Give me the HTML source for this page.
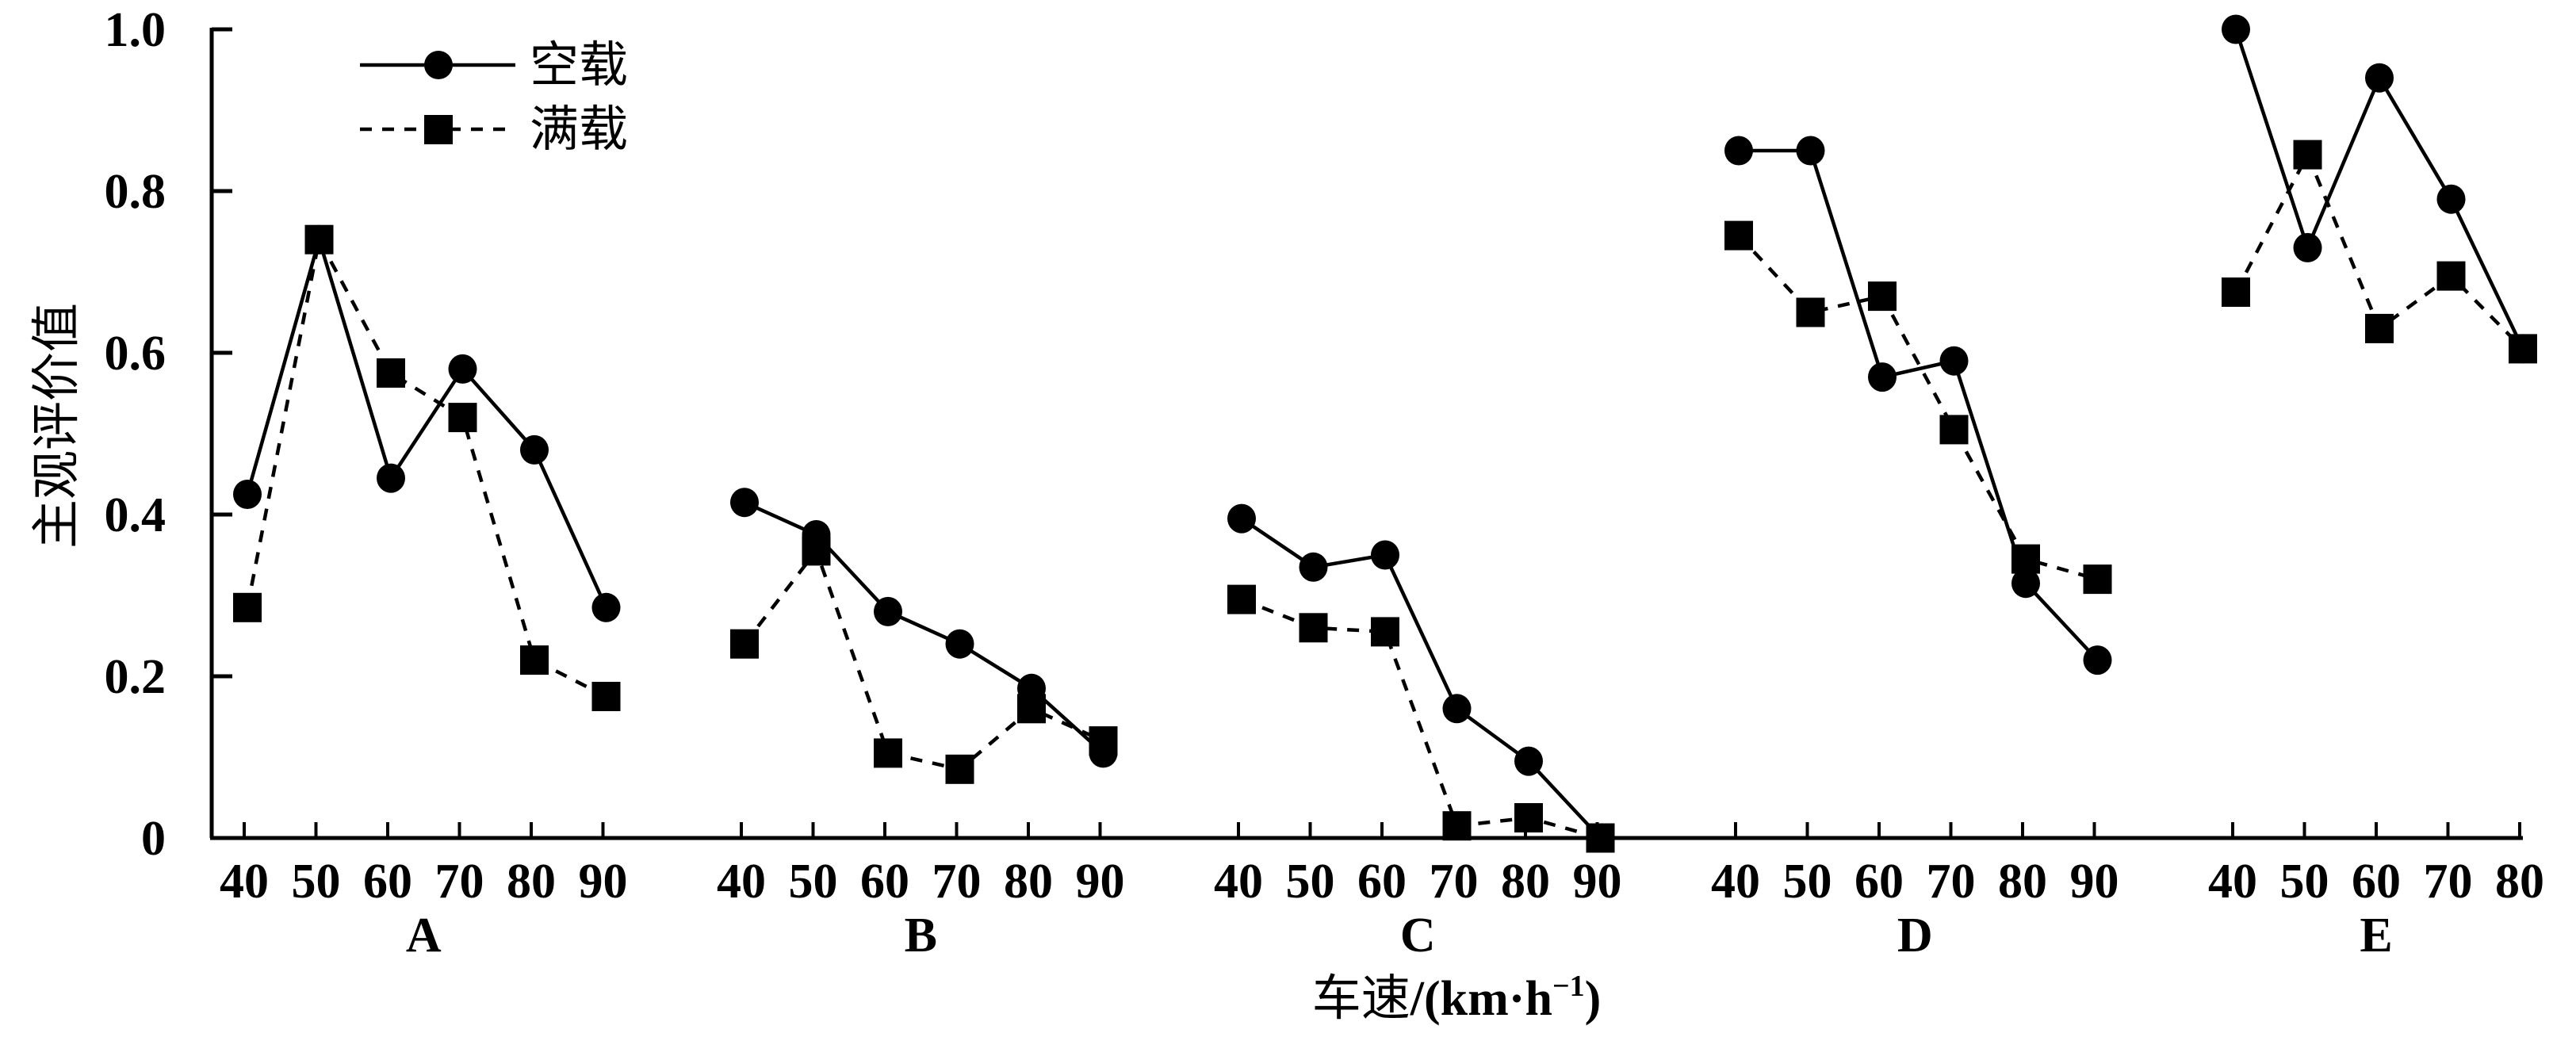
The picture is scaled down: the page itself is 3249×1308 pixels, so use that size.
<!DOCTYPE html>
<html><head><meta charset="utf-8">
<style>
html,body{margin:0;padding:0;background:#fff;}
svg{display:block;}
text{font-family:"Liberation Serif","Noto Serif CJK SC",serif;font-weight:bold;fill:#000;}
.cjk{font-family:"Liberation Serif","Noto Sans CJK SC",sans-serif;font-weight:normal;}
</style></head>
<body>
<svg id="chart" width="3249" height="1308" viewBox="0 0 3249 1308" xmlns="http://www.w3.org/2000/svg">
  <g id="axes"></g>
  <g id="series"></g>
  <g id="legend">
    <line x1="454" y1="82" x2="650" y2="82" stroke="#000" stroke-width="4.5"/>
    <ellipse cx="553" cy="82" rx="18" ry="18" fill="#000"/>
    <text class="cjk" x="668" y="103" font-size="62">空载</text>
    <line x1="454" y1="163" x2="650" y2="163" stroke="#000" stroke-width="4.5" stroke-dasharray="15 13"/>
    <rect x="535" y="145" width="36" height="37" fill="#000"/>
    <text class="cjk" x="668" y="184" font-size="62">满载</text>
  </g>
  <text class="cjk" font-size="62" text-anchor="middle" transform="translate(92,537) rotate(-90)">主观评价值</text>
  <text font-size="62" text-anchor="middle" x="1837" y="1280"><tspan class="cjk">车速</tspan>/(km·h<tspan font-size="38" dy="-24">−1</tspan><tspan dy="24">)</tspan></text>
</svg>
<script>
const groups = ["A","B","C","D","E"];
const speeds = [[40,50,60,70,80,90],[40,50,60,70,80,90],[40,50,60,70,80,90],[40,50,60,70,80,90],[40,50,60,70,80]];
const emptyLoad = [
  [0.425,0.74,0.445,0.58,0.48,0.285],
  [0.415,0.375,0.28,0.24,0.185,0.105],
  [0.395,0.335,0.35,0.16,0.095,0.0],
  [0.85,0.85,0.57,0.59,0.315,0.22],
  [1.0,0.73,0.94,0.79,0.605]
];
const fullLoad = [
  [0.285,0.74,0.575,0.52,0.22,0.175],
  [0.24,0.355,0.105,0.085,0.16,0.12],
  [0.295,0.26,0.255,0.015,0.025,0.0],
  [0.745,0.65,0.67,0.505,0.345,0.32],
  [0.675,0.845,0.63,0.695,0.605]
];
const yTicks = [0,0.2,0.4,0.6,0.8,1.0];
const yTickLabels = ["0","0.2","0.4","0.6","0.8","1.0"];

const NS = "http://www.w3.org/2000/svg";
const X0 = 267, Y0 = 1057, Y1 = 37, GSTART = 308, GSTEP = 627, STEP = 90.5;
function yScale(v){ return Y0 - v*(Y0-Y1); }
function xScale(g, speed){ return GSTART + g*GSTEP + (speed-40)/10*STEP; }
function mk(tag, attrs, parent){ const e=document.createElementNS(NS,tag); for(const k in attrs) e.setAttribute(k,attrs[k]); parent.appendChild(e); return e; }

const axes = document.getElementById('axes');
const ya = mk('line',{x1:X0,y1:Y1-2,x2:X0,y2:Y0,stroke:'#000','stroke-width':5},axes);


const xa = mk('line',{x1:X0-2,y1:Y0,x2:3182,y2:Y0,stroke:'#000','stroke-width':5},axes);


yTicks.forEach((v,i)=>{
  const y=yScale(v);
  const t=mk('line',{x1:X0,y1:y,x2:X0+26,y2:y,stroke:'#000','stroke-width':5},axes);
  
  
  const l=mk('text',{x:209,y:y+21,'font-size':62,'text-anchor':'end'},axes);
  l.textContent=yTickLabels[i];
  
  
});
groups.forEach((g,gi)=>{
  speeds[gi].forEach(s=>{
    const x=xScale(gi,s);
    const t=mk('line',{x1:x,y1:Y0,x2:x,y2:Y0-20,stroke:'#000','stroke-width':4},axes);
    
    
    const l=mk('text',{x:x,y:1132,'font-size':62,'text-anchor':'middle'},axes);
    l.textContent=String(s);
    
    
  });
  const n=speeds[gi].length;
  const cx=(xScale(gi,speeds[gi][0])+xScale(gi,speeds[gi][n-1]))/2;
  const gl=mk('text',{x:cx,y:1200,'font-size':62,'text-anchor':'middle'},axes);
  gl.textContent=g;
  
  
});

const ser = document.getElementById('series');
groups.forEach((g,gi)=>{
  const fp = speeds[gi].map((s,i)=>[xScale(gi,s)+4, yScale(fullLoad[gi][i])]);
  const ep = speeds[gi].map((s,i)=>[xScale(gi,s)+4, yScale(emptyLoad[gi][i])]);
  const fl=mk('polyline',{points:fp.map(p=>p.join(',')).join(' '),fill:'none',stroke:'#000','stroke-width':4.5,'stroke-dasharray':'15 13'},ser);
  
  
  const el=mk('polyline',{points:ep.map(p=>p.join(',')).join(' '),fill:'none',stroke:'#000','stroke-width':4.5},ser);
  
  
  fp.forEach(p=>{
    const r=mk('rect',{x:p[0]-18,y:p[1]-18.5,width:36,height:37,fill:'#000'},ser);
    
    
  });
  ep.forEach(p=>{
    const c=mk('ellipse',{cx:p[0],cy:p[1],rx:18,ry:18.5,fill:'#000'},ser);
    
    
  });
});
</script>
</body></html>
